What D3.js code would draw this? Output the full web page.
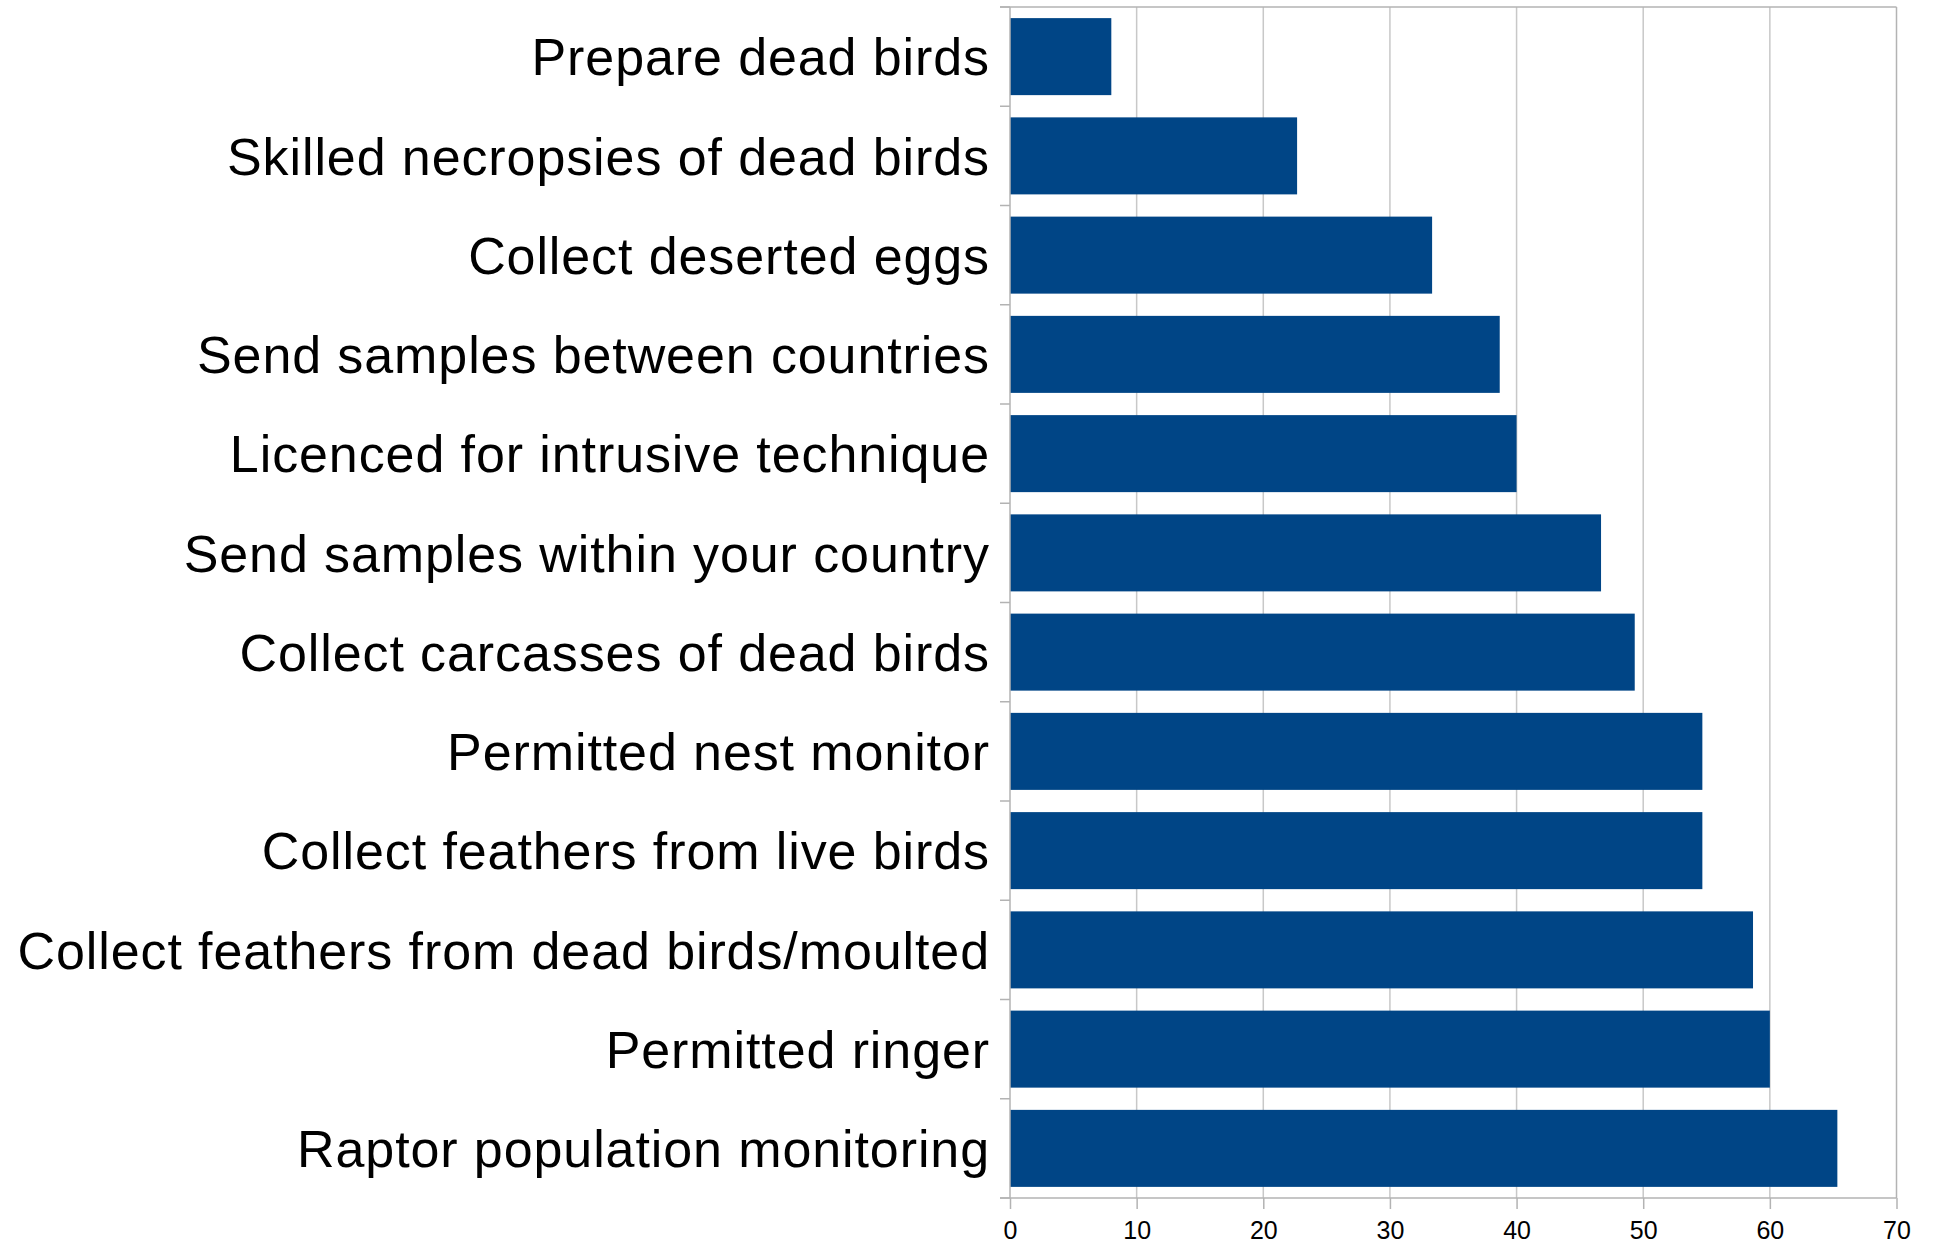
<!DOCTYPE html>
<html><head><meta charset="utf-8">
<script src="https://cdn.jsdelivr.net/npm/d3@7"></script>
<style>
html,body{margin:0;padding:0;background:#fff;}
svg{display:block;font-family:"Liberation Sans",Arial,sans-serif;}
</style></head>
<body>
<svg id="chart" width="1933" height="1245"></svg>
<script>
const categories = [
  "Prepare dead birds",
  "Skilled necropsies of dead birds",
  "Collect deserted eggs",
  "Send samples between countries",
  "Licenced for intrusive technique",
  "Send samples within your country",
  "Collect carcasses of dead birds",
  "Permitted nest monitor",
  "Collect feathers from live birds",
  "Collect feathers from dead birds/moulted",
  "Permitted ringer",
  "Raptor population monitoring"
];
const values = [8.0, 22.67, 33.33, 38.67, 40.0, 46.67, 49.33, 54.67, 54.67, 58.67, 60.0, 65.33];
const xTicks = [0, 10, 20, 30, 40, 50, 60, 70];

const W = 1933, H = 1245;
const m = {left: 1010, top: 7, right: 36.5, bottom: 47};
const svg = d3.select("#chart");

const pad = 0.224;
const x = d3.scaleLinear().domain([0, 70]).range([m.left, W - m.right]);
const y = d3.scaleBand().domain(categories).range([m.top, H - m.bottom])
  .paddingInner(pad).paddingOuter(pad / 2);

const gridColor = "#c8c8c8", axisColor = "#b3b3b3";

// gridlines
svg.append("g").selectAll("line").data(xTicks.filter(t => t > 0 && t < 70)).join("line")
  .attr("x1", d => x(d)).attr("x2", d => x(d))
  .attr("y1", m.top).attr("y2", H - m.bottom)
  .attr("stroke", gridColor).attr("stroke-width", 1.5);

// bars
svg.append("g").selectAll("rect").data(categories).join("rect")
  .attr("x", x(0))
  .attr("y", d => y(d))
  .attr("width", (d, i) => x(values[i]) - x(0))
  .attr("height", y.bandwidth())
  .attr("fill", "#004586");

// frame: top and right
svg.append("line").attr("x1", x(0) - 10).attr("x2", x(70)).attr("y1", m.top).attr("y2", m.top)
  .attr("stroke", axisColor).attr("stroke-width", 1.5);
svg.append("line").attr("x1", x(70)).attr("x2", x(70)).attr("y1", m.top).attr("y2", H - m.bottom)
  .attr("stroke", axisColor).attr("stroke-width", 1.5);

// y axis with ticks at category boundaries
const boundaries = categories.map(c => y(c) - y.step() * pad / 2).concat([H - m.bottom]);
svg.append("line").attr("x1", x(0)).attr("x2", x(0)).attr("y1", m.top).attr("y2", H - m.bottom)
  .attr("stroke", axisColor).attr("stroke-width", 1.5);
svg.append("g").selectAll("line").data(boundaries).join("line")
  .attr("x1", x(0) - 10).attr("x2", x(0)).attr("y1", d => d).attr("y2", d => d)
  .attr("stroke", axisColor).attr("stroke-width", 1.5);

// category labels
svg.append("g").selectAll("text").data(categories).join("text")
  .attr("x", 990)
  .attr("y", d => y(d) + y.bandwidth() / 2)
  .attr("dy", "0.36em")
  .attr("text-anchor", "end")
  .attr("font-size", 52)
  .attr("letter-spacing", "0.9px")
  .attr("fill", "#000")
  .text(d => d);

// x axis
const xAxis = d3.axisBottom(x).tickValues(xTicks).tickSize(11).tickPadding(12).tickFormat(d3.format("d"));
const gx = svg.append("g").attr("transform", `translate(0,${H - m.bottom})`).call(xAxis);
gx.select(".domain").remove();
gx.append("line").attr("x1", x(0) - 10).attr("x2", x(70)).attr("y1", 0).attr("y2", 0)
  .attr("stroke", axisColor).attr("stroke-width", 1.5);
gx.selectAll(".tick line").attr("stroke", axisColor).attr("stroke-width", 1.5);
gx.selectAll(".tick text").attr("font-size", 25).attr("fill", "#000")
  .attr("font-family", "'Liberation Sans', Arial, sans-serif");
</script>
</body></html>
